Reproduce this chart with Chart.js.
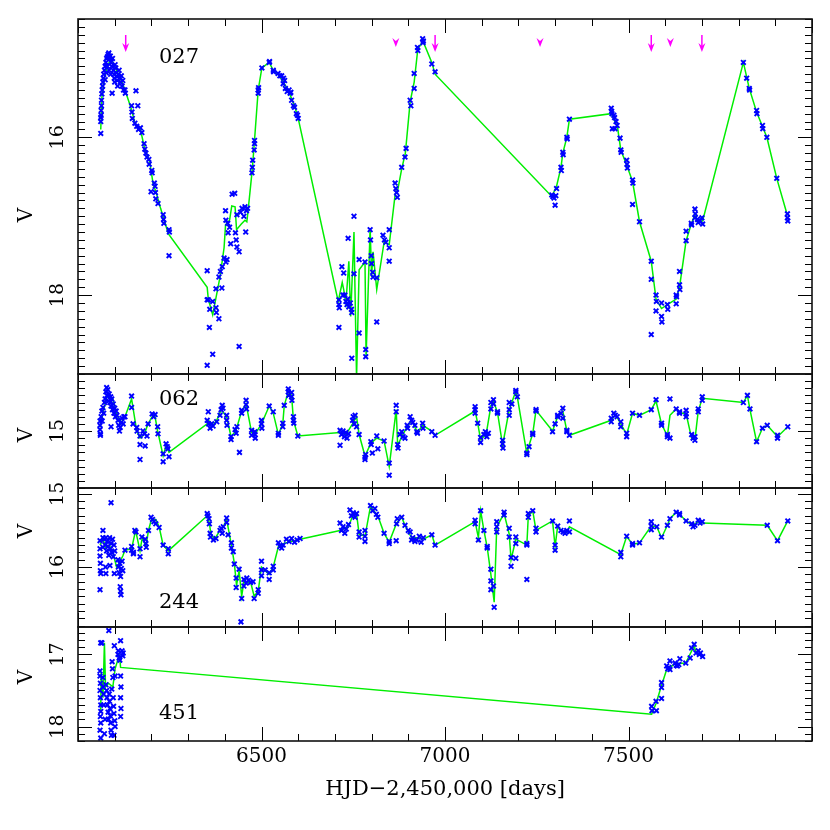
<!DOCTYPE html>
<html>
<head>
<meta charset="utf-8">
<style>
  html, body { margin: 0; background: #fff; }
  #wrap { position: relative; width: 830px; height: 830px; }
  #wrap canvas { position: absolute; left: 0; top: 0; }
</style>
<script src="https://cdn.jsdelivr.net/npm/chart.js@4.4.1/dist/chart.umd.min.js"></script>
</head>
<body>
<div id="wrap">
  <canvas id="c027" width="830" height="830"></canvas>
  <canvas id="c062" width="830" height="830"></canvas>
  <canvas id="c244" width="830" height="830"></canvas>
  <canvas id="c451" width="830" height="830"></canvas>
</div>
<script>
// light curves, [HJD-2450000, V]
const pts027 = [
  [6062,15.95],[6062,15.8],[6062,15.75],[6063,15.72],[6063,15.66],[6064,15.6],[6064,15.53],[6065,15.45],[6066,15.4],
  [6067,15.35],[6068,15.3],[6069,15.25],[6070,15.2],[6072,15.15],[6074,15.1],[6074,15.27],[6076,15.05],[6077,15.18],
  [6078,15.0],[6080,14.98],[6080,15.1],[6082,14.95],[6084,14.93],[6085,15.15],[6086,15.0],[6088,14.97],[6089,15.2],
  [6090,15.05],[6092,15.1],[6093,15.44],[6094,15.0],[6096,15.15],[6098,15.2],[6099,15.25],[6100,15.3],[6101,15.08],
  [6103,15.12],[6104,15.18],[6106,15.23],[6107,15.28],[6108,15.35],[6110,15.2],[6112,15.15],[6114,15.25],[6116,15.3],
  [6118,15.22],[6120,15.35],[6122,15.28],[6124,15.4],[6128,15.4],[6129,15.44],
  [6146,15.6],[6158,15.41],[6163,15.6],[6147,15.68],[6148,15.76],[6155,15.82],[6160,15.86],[6165,15.9],[6170,15.88],
  [6174,15.94],[6180,16.08],[6182,16.15],[6185,16.2],[6188,16.25],[6193,16.28],[6194,16.34],[6201,16.42],[6202,16.45],
  [6199,16.69],[6208,16.58],[6210,16.62],[6211,16.7],[6212,16.78],[6218,16.84],[6232,16.98],[6233,17.04],[6234,17.09],
  [6248,17.17],[6249,17.2],[6248,17.5],
  [6352,17.69],[6352,18.06],[6355,18.06],[6359,18.18],[6358,18.41],[6352,18.89],[6367,18.08],[6367,18.75],[6376,18.16],
  [6377,18.22],[6376,17.92],[6384,18.3],[6384,17.77],[6388,17.7],[6393,17.64],[6392,17.91],[6398,17.53],[6403,17.58],
  [6406,17.55],[6402,16.93],[6403,17.05],[6408,17.09],[6413,17.14],[6409,17.21],[6416,17.35],[6420,16.72],[6427,16.71],
  [6429,17.21],[6431,17.3],[6433,17.39],[6439,17.45],[6439,18.65],[6433,16.98],[6443,16.95],[6447,16.9],[6452,17.0],
  [6455,16.88],[6459,16.93],[6462,16.9],[6457,17.2],[6474,16.45],[6475,16.38],[6476,16.29],[6480,16.16],[6481,16.08],
  [6481,16.04],[6491,15.44],[6491,15.4],[6492,15.37],[6501,15.12],[6521,15.05],[6522,15.04],[6532,15.15],[6533,15.17],
  [6545,15.19],[6550,15.22],[6555,15.22],[6560,15.25],[6563,15.28],[6559,15.32],[6565,15.38],[6570,15.42],[6575,15.4],
  [6578,15.44],[6580,15.43],[6582,15.53],[6587,15.6],[6590,15.62],[6595,15.7],[6598,15.72],[6600,15.76],
  [6711,18.06],[6711,18.12],[6712,18.16],[6711,18.41],[6719,17.64],[6724,17.72],[6722,18.0],[6727,18.0],[6730,18.08],
  [6733,18.12],[6735,18.05],[6738,18.15],[6742,18.1],[6745,18.18],[6746,18.22],[6736,17.28],[6746,18.8],[6752,17.0],
  [6752,17.73],[6766,17.55],[6766,18.48],[6782,17.58],[6784,18.69],[6784,18.78],[6796,17.17],[6797,17.3],[6799,17.5],
  [6800,17.6],[6803,17.71],[6804,17.77],[6814,17.78],[6814,18.34],[6831,17.24],[6835,17.3],[6839,17.33],[6848,17.17],
  [6848,17.4],[6848,17.57],[6864,16.58],[6866,16.65],[6868,16.7],[6870,16.76],[6882,16.38],[6891,16.25],[6894,16.14],
  [6905,15.53],[6907,15.6],[6916,15.38],[6916,15.19],[6925,14.86],[6926,14.9],[6939,14.75],[6940,14.8],[6941,14.78],
  [6964,15.07],[6973,15.17],
  [7291,16.73],[7294,16.75],[7297,16.77],[7300,16.86],[7302,16.74],[7304,16.65],[7316,16.38],[7317,16.42],[7321,16.19],
  [7322,16.22],[7332,16.0],[7333,16.02],[7339,15.77],[7453,15.63],[7454,15.67],[7455,15.7],[7456,15.89],[7460,15.72],
  [7462,15.75],[7463,15.89],[7466,15.8],[7469,15.85],[7477,16.01],[7479,16.16],[7480,16.19],[7495,16.29],[7496,16.34],
  [7497,16.39],[7511,16.54],[7512,16.58],[7511,16.85],[7530,17.07],[7562,17.57],[7562,17.8],[7562,18.5],[7575,18.0],
  [7576,18.08],[7575,18.2],[7590,18.1],[7590,18.27],[7591,18.34],[7606,18.12],[7607,18.18],[7630,18.0],[7631,18.02],
  [7630,18.11],[7639,17.87],[7640,17.93],[7639,17.7],[7657,17.31],[7657,17.19],[7671,17.09],[7672,17.11],[7681,16.91],
  [7682,16.97],[7681,17.02],[7688,17.04],[7690,17.08],[7695,17.06],[7700,17.02],[7702,17.1],
  [7813,15.05],[7822,15.25],[7829,15.38],[7830,15.4],[7849,15.66],[7850,15.7],[7865,15.85],[7866,15.89],[7877,16.0],
  [7904,16.52],[7933,16.97],[7933,17.02],[7934,17.06]
];
const line027 = [
  [6062,15.9],[6065,15.5],[6070,15.3],[6080,15.1],[6090,15.0],[6100,15.1],[6110,15.2],[6120,15.3],[6131,15.44],
  [6146,15.65],[6155,15.82],[6170,15.9],[6182,16.15],[6195,16.3],[6205,16.6],[6213,16.7],[6225,16.9],[6246,17.22],
  [6352,17.9],[6355,18.05],[6367,18.25],[6387,17.77],[6398,17.4],[6402,17.11],[6413,17.05],[6419,16.87],[6428,16.88],
  [6432,17.17],[6445,17.1],[6455,17.05],[6460,17.07],[6463,16.95],[6475,16.4],[6480,16.1],[6491,15.4],[6501,15.12],
  [6521,15.05],[6532,15.15],[6545,15.2],[6560,15.3],[6575,15.43],[6590,15.6],[6600,15.76],
  [6709,18.08],[6720,17.84],[6724,17.93],[6730,18.1],[6738,17.57],[6743,18.27],[6752,17.2],[6759,19.05],[6766,17.68],
  [6782,17.58],[6785,18.78],[6796,17.15],[6800,17.77],[6804,17.45],[6814,17.93],[6834,17.33],[6848,17.36],[6864,16.73],
  [6872,16.65],[6882,16.4],[6892,16.2],[6905,15.55],[6916,15.3],[6926,14.88],[6940,14.78],[6964,15.05],[6973,15.2],
  [7291,16.75],[7304,16.62],[7316,16.38],[7321,16.2],[7332,16.0],[7339,15.77],[7453,15.7],[7470,15.87],[7479,16.16],
  [7495,16.35],[7511,16.56],[7530,17.07],[7562,17.57],[7575,18.05],[7590,18.17],[7606,18.12],[7630,18.05],[7639,17.9],
  [7657,17.31],[7671,17.1],[7681,16.98],[7688,17.08],[7702,17.06],[7813,15.05],[7829,15.38],[7849,15.68],[7877,16.0],
  [7904,16.52],[7933,16.99]
];

const pts062 = [
  [6060,14.86],[6060,14.92],[6060,14.98],[6061,15.04],[6061,15.06],[6063,14.8],[6065,14.72],[6066,14.86],[6068,14.67],
  [6070,14.75],[6072,14.6],[6074,14.55],[6076,14.45],[6078,14.39],[6079,14.5],[6081,14.42],[6083,14.58],[6085,14.48],
  [6087,14.6],[6089,14.52],[6090,14.65],[6090,14.94],[6092,14.55],[6094,14.7],[6096,14.62],[6098,14.75],[6100,14.68],
  [6102,14.8],[6104,14.72],[6106,14.78],[6109,14.85],[6111,14.92],[6113,15.0],[6115,14.95],[6118,14.88],[6120,14.82],
  [6123,14.9],[6125,14.8],[6128,14.8],[6146,14.51],[6146,14.67],[6150,14.9],[6160,14.95],[6161,15.0],[6169,15.07],
  [6169,15.4],[6169,15.19],[6183,15.21],[6177,15.0],[6181,15.04],[6188,15.07],[6191,14.9],[6202,14.76],[6206,14.8],
  [6210,14.77],[6217,14.94],[6218,15.04],[6232,15.32],[6232,15.43],[6240,15.18],[6243,15.22],[6245,15.25],[6248,15.36],
  [6352,14.85],[6356,14.9],[6360,14.96],[6364,14.9],[6368,14.93],[6355,14.73],[6378,14.87],[6387,14.78],[6390,14.7],
  [6393,14.64],[6395,14.68],[6405,14.78],[6405,14.85],[6406,14.92],[6417,15.08],[6417,15.12],[6428,14.98],[6431,15.03],
  [6433,14.94],[6440,15.3],[6446,14.71],[6446,14.75],[6458,14.57],[6458,14.63],[6459,14.69],[6473,14.99],[6473,15.06],
  [6482,15.01],[6482,15.05],[6483,15.1],[6500,14.85],[6500,14.9],[6501,14.96],[6521,14.65],[6532,14.73],[6546,15.03],
  [6546,15.06],[6558,14.89],[6558,14.94],[6562,14.64],[6573,14.41],[6573,14.45],[6574,14.5],[6582,14.46],[6582,14.52],
  [6583,14.57],[6587,14.8],[6587,14.85],[6588,14.89],[6599,15.07],
  [6714,14.99],[6718,15.05],[6722,15.0],[6726,15.08],[6730,15.02],[6733,15.1],[6737,15.04],[6714,15.2],[6748,14.85],
  [6750,14.8],[6753,14.9],[6755,14.78],[6759,14.94],[6766,15.05],[6782,15.37],[6782,15.4],[6784,15.33],[6798,15.15],
  [6799,15.19],[6802,15.31],[6814,15.07],[6817,15.25],[6834,15.14],[6848,15.45],[6848,15.62],[6867,14.64],[6867,14.73],
  [6871,15.19],[6872,15.24],[6877,15.05],[6882,15.01],[6886,15.08],[6891,15.1],[6897,14.92],[6898,14.96],[6905,14.8],
  [6909,14.85],[6912,14.88],[6918,14.92],[6923,15.01],[6925,15.03],[6939,14.89],[6940,14.96],[6964,15.01],[6973,15.06],
  [7082,14.66],[7082,14.7],[7082,14.75],[7089,14.89],[7097,15.09],[7097,15.16],[7106,15.05],[7110,15.01],[7114,15.08],
  [7118,15.03],[7125,14.6],[7125,14.69],[7132,14.56],[7132,14.62],[7143,14.73],[7143,14.75],[7157,15.13],[7157,15.18],
  [7158,15.24],[7175,14.6],[7175,14.7],[7175,14.78],[7182,14.62],[7193,14.43],[7193,14.45],[7197,14.52],[7223,15.31],
  [7223,15.33],[7229,15.22],[7239,15.03],[7239,15.05],[7248,14.7],[7248,14.72],[7293,15.01],[7300,14.9],[7307,14.78],
  [7307,14.8],[7316,14.75],[7321,14.68],[7321,14.82],[7332,14.99],[7332,15.01],[7339,15.06],
  [7453,14.82],[7453,14.87],[7460,14.75],[7464,14.78],[7469,14.8],[7479,14.87],[7479,14.94],[7495,15.03],[7495,15.08],
  [7511,14.75],[7530,14.78],[7562,14.7],[7575,14.56],[7590,14.89],[7590,14.92],[7606,15.05],[7606,15.08],[7613,14.55],
  [7613,15.1],[7630,14.69],[7639,14.73],[7639,14.75],[7657,14.71],[7657,14.76],[7657,14.8],[7672,15.05],[7676,15.1],
  [7681,15.13],[7681,15.08],[7690,14.69],[7690,14.73],[7701,14.52],[7701,14.57],[7813,14.6],[7824,14.5],[7831,14.69],
  [7849,15.15],[7865,14.96],[7878,14.92],[7906,15.06],[7906,15.1],[7934,14.94]
];
const line062 = [
  [6060,14.95],[6070,14.7],[6080,14.5],[6095,14.55],[6105,14.75],[6115,14.9],[6122,14.85],[6128,14.8],[6146,14.55],
  [6160,15.0],[6169,15.1],[6180,15.05],[6191,14.9],[6202,14.8],[6210,14.8],[6217,15.0],[6232,15.35],[6240,15.2],
  [6248,15.3],[6352,14.9],[6355,14.85],[6368,14.92],[6378,14.85],[6390,14.7],[6405,14.8],[6417,15.08],[6430,15.0],
  [6446,14.72],[6458,14.62],[6473,15.02],[6482,15.05],[6500,14.9],[6521,14.65],[6532,14.75],[6546,15.05],[6558,14.9],
  [6562,14.64],[6573,14.45],[6582,14.5],[6587,14.85],[6599,15.07],[6714,15.02],[6730,15.05],[6748,14.9],[6759,14.8],
  [6766,15.05],[6782,15.35],[6798,15.17],[6814,15.1],[6834,15.14],[6848,15.5],[6867,14.7],[6871,15.2],[6885,15.05],
  [6897,14.94],[6909,14.85],[6925,15.02],[6939,14.92],[6964,15.0],[6973,15.06],[7082,14.72],[7089,14.89],[7097,15.12],
  [7112,15.05],[7125,14.65],[7132,14.58],[7143,14.74],[7157,15.2],[7175,14.7],[7193,14.44],[7197,14.52],[7223,15.32],
  [7229,15.2],[7239,15.04],[7248,14.71],[7293,15.0],[7300,14.9],[7307,14.8],[7316,14.75],[7321,14.72],[7332,15.0],
  [7339,15.06],[7453,14.85],[7465,14.77],[7479,14.9],[7495,15.05],[7511,14.75],[7530,14.78],[7562,14.7],[7575,14.58],
  [7590,14.9],[7606,15.07],[7613,14.78],[7630,14.69],[7639,14.74],[7657,14.76],[7672,15.1],[7681,15.12],[7690,14.72],
  [7701,14.54],[7813,14.6],[7824,14.5],[7831,14.7],[7849,15.15],[7865,14.96],[7878,14.92],[7906,15.08],[7934,14.94]
];

const pts244 = [
  [6090,15.12],[6060,15.64],[6060,15.75],[6060,15.85],[6061,15.95],[6061,16.05],[6062,16.09],[6060,16.31],[6068,15.5],
  [6068,15.6],[6068,15.73],[6072,15.62],[6074,15.7],[6076,15.6],[6078,15.78],[6080,15.65],[6082,15.72],[6084,15.84],
  [6086,15.6],[6088,15.75],[6090,15.68],[6092,15.8],[6094,15.62],[6096,15.86],[6098,15.7],[6100,15.78],[6075,16.0],
  [6076,16.09],[6087,15.98],[6099,16.09],[6109,15.9],[6110,16.0],[6112,16.08],[6114,15.95],[6116,16.13],[6118,16.02],
  [6120,15.92],[6122,16.05],[6115,16.27],[6116,16.33],[6117,16.38],[6128,15.77],[6146,15.72],[6146,15.77],[6155,15.5],
  [6158,15.52],[6151,15.8],[6151,15.82],[6169,15.75],[6169,15.86],[6174,15.59],[6183,15.62],[6185,15.68],[6186,15.73],
  [6192,15.5],[6199,15.32],[6203,15.35],[6207,15.38],[6212,15.41],[6221,15.46],[6232,15.7],[6246,15.75],[6246,15.82],
  [6352,15.27],[6354,15.3],[6357,15.34],[6358,15.41],[6360,15.54],[6361,15.59],[6369,15.63],[6376,15.61],[6387,15.5],
  [6390,15.47],[6393,15.54],[6396,15.45],[6405,15.33],[6405,15.39],[6409,15.56],[6418,15.67],[6418,15.74],[6423,15.79],
  [6426,15.96],[6431,16.15],[6431,16.28],[6439,16.03],[6446,16.43],[6452,16.17],[6452,16.26],[6458,16.22],[6444,16.75],
  [6460,16.15],[6465,16.18],[6470,16.21],[6477,16.2],[6480,16.43],[6491,16.31],[6491,16.36],[6500,15.92],[6500,16.04],
  [6500,16.12],[6510,16.04],[6521,16.08],[6521,16.17],[6532,15.99],[6532,16.04],[6546,15.67],[6550,15.72],[6555,15.74],
  [6559,15.7],[6568,15.62],[6575,15.65],[6582,15.61],[6590,15.66],[6597,15.63],[6605,15.61],
  [6714,15.4],[6718,15.5],[6722,15.45],[6727,15.54],[6731,15.48],[6737,15.42],[6741,15.22],[6745,15.3],[6750,15.26],
  [6755,15.32],[6759,15.27],[6766,15.52],[6766,15.59],[6782,15.5],[6782,15.58],[6782,15.65],[6797,15.16],[6803,15.23],
  [6809,15.2],[6813,15.28],[6817,15.32],[6834,15.54],[6848,15.65],[6848,15.68],[6867,15.64],[6868,15.41],[6870,15.34],
  [6882,15.32],[6891,15.43],[6900,15.5],[6905,15.52],[6909,15.63],[6912,15.6],[6918,15.65],[6923,15.63],[6930,15.58],
  [6935,15.66],[6941,15.6],[6964,15.56],[6973,15.7],
  [7082,15.36],[7082,15.41],[7091,15.63],[7097,15.23],[7106,15.5],[7115,15.72],[7115,15.74],[7125,16.03],[7125,16.19],
  [7125,16.31],[7132,16.26],[7134,16.55],[7141,15.38],[7141,15.45],[7141,15.52],[7161,15.25],[7161,15.29],[7175,15.47],
  [7175,15.59],[7180,15.87],[7180,15.99],[7193,15.59],[7193,15.68],[7193,15.88],[7223,15.68],[7223,15.7],[7223,16.17],
  [7227,15.27],[7227,15.32],[7239,15.23],[7248,15.47],[7248,15.52],[7293,15.37],[7300,15.7],[7300,15.77],[7307,15.44],
  [7316,15.5],[7322,15.52],[7327,15.54],[7332,15.5],[7339,15.37],[7339,15.52],
  [7479,15.8],[7479,15.86],[7495,15.58],[7511,15.68],[7511,15.7],[7530,15.67],[7562,15.38],[7562,15.44],[7562,15.49],
  [7577,15.45],[7590,15.59],[7606,15.43],[7613,15.34],[7630,15.25],[7639,15.27],[7639,15.29],[7657,15.37],[7672,15.41],
  [7676,15.45],[7681,15.43],[7690,15.36],[7695,15.4],[7701,15.38],[7878,15.43],[7906,15.64],[7934,15.37]
];
const line244 = [
  [6060,15.7],[6068,15.6],[6075,15.75],[6085,15.7],[6095,15.8],[6105,16.0],[6112,15.95],[6122,15.85],[6128,15.77],
  [6146,15.75],[6157,15.5],[6169,15.78],[6175,15.6],[6185,15.72],[6192,15.5],[6200,15.35],[6212,15.35],[6221,15.45],
  [6232,15.7],[6246,15.78],[6352,15.3],[6358,15.4],[6362,15.55],[6372,15.62],[6387,15.5],[6396,15.45],[6405,15.35],
  [6418,15.7],[6426,15.95],[6432,16.25],[6439,16.05],[6446,16.4],[6452,16.2],[6458,16.22],[6470,16.2],[6480,16.4],
  [6491,16.33],[6500,16.0],[6510,16.05],[6521,16.1],[6532,16.0],[6546,15.72],[6559,15.68],[6580,15.65],[6605,15.62],
  [6714,15.5],[6737,15.45],[6750,15.28],[6759,15.27],[6766,15.55],[6782,15.58],[6797,15.17],[6809,15.25],[6817,15.3],
  [6834,15.54],[6848,15.66],[6868,15.4],[6882,15.32],[6891,15.43],[6909,15.6],[6923,15.6],[6941,15.62],[6964,15.56],
  [6973,15.7],[7082,15.38],[7091,15.6],[7097,15.23],[7106,15.5],[7115,15.73],[7125,16.1],[7134,16.48],[7141,15.45],
  [7161,15.27],[7175,15.55],[7180,15.9],[7193,15.62],[7223,15.7],[7227,15.3],[7239,15.23],[7248,15.5],[7293,15.37],
  [7300,15.72],[7307,15.44],[7320,15.52],[7332,15.53],[7339,15.45],[7479,15.83],[7495,15.58],[7511,15.69],[7530,15.67],
  [7562,15.44],[7577,15.45],[7590,15.6],[7606,15.43],[7613,15.34],[7630,15.25],[7639,15.28],[7657,15.37],[7675,15.43],
  [7690,15.38],[7701,15.4],[7878,15.43],[7906,15.64],[7934,15.37]
];

const pts451 = [
  [6060,17.23],[6060,17.3],[6061,17.4],[6060,17.5],[6061,17.6],[6062,17.7],[6062,17.79],[6061,17.86],[6062,17.95],
  [6060,18.05],[6062,18.16],[6062,16.84],[6065,16.84],[6068,17.32],[6068,17.45],[6070,17.55],[6070,17.7],[6072,18.1],
  [6074,17.9],[6076,17.42],[6078,17.5],[6079,17.6],[6080,17.7],[6082,17.8],[6083,17.9],[6084,16.67],[6085,17.55],
  [6086,17.65],[6087,17.75],[6088,17.85],[6089,17.95],[6090,18.05],[6091,18.12],[6092,17.48],[6093,17.1],[6094,17.2],
  [6095,17.32],[6096,17.6],[6097,17.72],[6098,17.82],[6099,16.88],[6100,17.92],[6101,18.0],[6101,17.3],[6098,18.12],
  [6109,17.0],[6110,16.95],[6112,17.05],[6114,17.08],[6116,16.81],[6116,17.3],[6117,17.45],[6116,17.6],[6117,17.75],
  [6116,17.86],[6120,16.95],[6122,17.02],[6123,16.98],
  [7563,17.72],[7564,17.78],[7575,17.65],[7576,17.78],[7590,17.39],[7590,17.46],[7590,17.61],[7604,17.16],[7607,17.2],
  [7610,17.18],[7613,17.21],[7613,17.09],[7627,17.12],[7630,17.15],[7633,17.16],[7637,17.14],[7640,17.06],[7656,17.12],
  [7668,17.05],[7672,16.91],[7679,16.86],[7684,16.98],[7690,16.95],[7693,17.0],[7696,16.98],[7702,17.03]
];
const line451 = [
  [6062,17.8],[6063,17.25],[6068,17.6],[6072,16.84],[6075,17.45],[6083,17.4],[6095,17.45],[6101,17.2],[6113,17.0],
  [6116,17.18],[7563,17.83],[7575,17.68],[7590,17.43],[7604,17.21],[7627,17.13],[7656,17.12],[7679,16.88],[7684,16.98],
  [7702,17.03]
];

// epochs marked with magenta arrows in the top panel
const arrowDays = [6130, 6866, 6973, 7259, 7562, 7614, 7700];
const arrowShaft = [true, false, true, false, true, false, true];

const xTickLabels = [6500, 7000, 7500];

// layout / look
const panels = [
  { id: 'c027', name: '027', pts: pts027, line: line027, top: 19, bottom: 374, min: 14.5, max: 19.0, major: 2,
    labels: [16, 18], vY: 215, nameY: 58 },
  { id: 'c062', name: '062', pts: pts062, line: line062, top: 374, bottom: 488, min: 14.2, max: 15.8, major: 1,
    labels: [15], vY: 435, nameY: 400 },
  { id: 'c244', name: '244', pts: pts244, line: line244, top: 488, bottom: 627, min: 14.92, max: 16.82, major: 1,
    labels: [15, 16], vY: 531, nameY: 603 },
  { id: 'c451', name: '451', pts: pts451, line: line451, top: 627, bottom: 741, min: 16.62, max: 18.2, major: 1,
    labels: [17, 18], vY: 677, nameY: 714 }
];
const PLOT_L = 78, PLOT_R = 812, W = 830, H = 830;
const FONT = '"DejaVu Serif", "Liberation Serif", serif';

function seg(ctx, x1, y1, x2, y2) {
  ctx.beginPath(); ctx.moveTo(x1, y1); ctx.lineTo(x2, y2); ctx.stroke();
}

function rotText(ctx, txt, x, y) {
  ctx.save();
  ctx.translate(x, y);
  ctx.rotate(-Math.PI / 2);
  ctx.textAlign = 'center';
  ctx.textBaseline = 'middle';
  ctx.fillText(txt, 0, 0);
  ctx.restore();
}

const framePlugin = {
  id: 'frame',
  afterDraw(chart) {
    const p = chart.options.plugins.frame.panel;
    const last = chart.options.plugins.frame.last;
    const { ctx, chartArea: a, scales: { x, y } } = chart;
    ctx.save();
    ctx.strokeStyle = '#000';
    ctx.lineWidth = 1;
    // x ticks, top and bottom, pointing inwards
    for (let d = 6000; d <= 8000; d += 100) {
      const px = Math.round(x.getPixelForValue(d)) + 0.5;
      const len = d % 500 === 0 ? 14 : 7;
      seg(ctx, px, a.top, px, a.top + len);
      seg(ctx, px, a.bottom, px, a.bottom - len);
    }
    // y ticks, left and right
    for (let k = Math.ceil(p.min * 10 - 1e-6); k <= Math.floor(p.max * 10 + 1e-6); k++) {
      const py = Math.round(y.getPixelForValue(k / 10)) + 0.5;
      const len = k % (p.major * 10) === 0 ? 14 : 7;
      seg(ctx, a.left, py, a.left + len, py);
      seg(ctx, a.right, py, a.right - len, py);
    }
    ctx.lineWidth = 1.6;
    ctx.strokeStyle = '#111';
    ctx.strokeRect(a.left, a.top, a.right - a.left, a.bottom - a.top);

    ctx.fillStyle = '#000';
    ctx.font = '19px ' + FONT;
    p.labels.forEach(v => rotText(ctx, String(v), 58, y.getPixelForValue(v)));
    ctx.font = '20px ' + FONT;
    rotText(ctx, 'V', 27, p.vY);
    ctx.textAlign = 'left';
    ctx.textBaseline = 'middle';
    ctx.font = '21px ' + FONT;
    ctx.fillText(p.name, 159, p.nameY);

    if (p.name === '027') {
      ctx.fillStyle = '#ff00ff';
      ctx.strokeStyle = '#ff00ff';
      ctx.lineWidth = 1.5;
      arrowDays.forEach((d, i) => {
        const px = x.getPixelForValue(d);
        if (arrowShaft[i]) {
          seg(ctx, px, 35, px, 48);
          ctx.beginPath();
          ctx.moveTo(px - 3.5, 43); ctx.lineTo(px, 52); ctx.lineTo(px + 3.5, 43); ctx.lineTo(px, 46);
          ctx.closePath(); ctx.fill();
        } else {
          ctx.beginPath();
          ctx.moveTo(px - 3.5, 38); ctx.lineTo(px, 47); ctx.lineTo(px + 3.5, 38); ctx.lineTo(px, 41);
          ctx.closePath(); ctx.fill();
        }
      });
    }

    if (last) {
      ctx.fillStyle = '#000';
      ctx.font = '20px ' + FONT;
      ctx.textAlign = 'center';
      ctx.textBaseline = 'middle';
      xTickLabels.forEach(d => ctx.fillText(String(d), x.getPixelForValue(d), 757));
      ctx.font = '21px ' + FONT;
      ctx.fillText('HJD\u22122,450,000 [days]', (a.left + a.right) / 2, 790);
    }
    ctx.restore();
  }
};

panels.forEach((p, i) => {
  new Chart(document.getElementById(p.id), {
    type: 'scatter',
    data: {
      datasets: [
        {
          data: p.pts.map(([t, v]) => ({ x: t, y: v })),
          pointStyle: 'crossRot',
          pointRadius: 3.3,
          borderColor: '#0000ff',
          borderWidth: 1.9,
          showLine: false,
          order: 1
        },
        {
          data: p.line.map(([t, v]) => ({ x: t, y: v })),
          showLine: true,
          borderColor: '#00ee00',
          borderWidth: 1.5,
          pointRadius: 0,
          fill: false,
          tension: 0,
          order: 2
        }
      ]
    },
    options: {
      responsive: false,
      animation: false,
      devicePixelRatio: 1,
      layout: { padding: { left: PLOT_L, right: W - PLOT_R, top: p.top, bottom: H - p.bottom } },
      scales: {
        x: { type: 'linear', min: 6000, max: 8000, display: false },
        y: { type: 'linear', min: p.min, max: p.max, reverse: true, display: false }
      },
      plugins: {
        legend: { display: false },
        tooltip: { enabled: false },
        frame: { panel: p, last: i === panels.length - 1 }
      },
      events: []
    },
    plugins: [framePlugin]
  });
});
</script>
</body>
</html>
